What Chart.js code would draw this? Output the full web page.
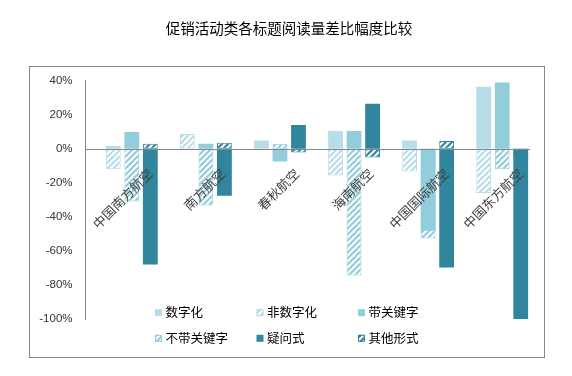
<!DOCTYPE html>
<html>
<head>
<meta charset="utf-8">
<script src="https://cdn.jsdelivr.net/npm/chart.js@4.4.1/dist/chart.umd.min.js"></script>
<style>
  html, body { margin: 0; padding: 0; background: #fff; }
</style>
</head>
<body>
<canvas id="chart" width="572" height="376"></canvas>
<script>
// ---------------- data ----------------
const TITLE = "促销活动类各标题阅读量差比幅度比较";
const categories = ["中国南方航空", "南方航空", "春秋航空", "海南航空", "中国国际航空", "中国东方航空"];

const digital      = [1.7, 0, 4.8, 10.5, 4.8, 36.5];        // 数字化
const nonDigital   = [-12.0, 8.7, -0.8, -15.7, -13.4, -26]; // 非数字化
const withKey      = [9.9, 2.9, -7.5, 10.5, -48.2, 38.9];   // 带关键字
const withoutKey   = [-31.0, -33.3, 2.9, -74.4, -52.7, -12.0]; // 不带关键字
const question     = [-68.0, -27.6, 14.0, 26.5, -69.7, -100];  // 疑问式
const otherForm    = [2.9, 3.5, -2.2, -5.1, 4.6, -5];       // 其他形式

const yTicks = { min: -100, max: 40, step: 20 };

// ---------------- colours ----------------
const LIGHT = "#b7dde8";
const MID = "#92cddc";
const DARK = "#31859c";
const GREY = "#868686";
const CJK = "'Noto Sans CJK SC', 'Noto Sans', sans-serif";

function hatch(color) {
  const c = document.createElement("canvas");
  c.width = 6; c.height = 6;
  const x = c.getContext("2d");
  x.fillStyle = "#fff";
  x.fillRect(0, 0, 6, 6);
  x.strokeStyle = color;
  x.lineWidth = 2.2;
  x.beginPath();
  x.moveTo(-1, 7); x.lineTo(7, -1);
  x.moveTo(-1, 1); x.lineTo(1, -1);
  x.moveTo(5, 7); x.lineTo(7, 5);
  x.stroke();
  return x.createPattern(c, "repeat");
}

function solid(label, data, color, stack) {
  return { label, data, stack, backgroundColor: color, borderWidth: 0 };
}
function striped(label, data, color, stack) {
  return { label, data, stack, backgroundColor: hatch(color), borderColor: color,
           borderWidth: 1, borderSkipped: false };
}

// empty first slot, pushes each group to the right like the original
const spacer = { label: "", data: [null, null, null, null, null, null], stack: "pad" };

const datasets = [
  spacer,
  solid("数字化", digital, LIGHT, "a"),
  striped("非数字化", nonDigital, LIGHT, "a"),
  solid("带关键字", withKey, MID, "b"),
  striped("不带关键字", withoutKey, MID, "b"),
  solid("疑问式", question, DARK, "c"),
  striped("其他形式", otherForm, DARK, "c")
];

// ---------------- plugins ----------------
const framePlugin = {
  id: "frame",
  beforeDraw(chart) {
    const ctx = chart.ctx;
    ctx.save();
    ctx.strokeStyle = GREY;
    ctx.lineWidth = 1;
    ctx.strokeRect(29.5, 66.5, 515, 291);
    // title
    ctx.font = "14.5px " + CJK;
    ctx.fillStyle = "#000";
    ctx.textAlign = "center";
    ctx.textBaseline = "middle";
    ctx.fillText(TITLE, 289, 28);
    ctx.restore();
  }
};

const overlayPlugin = {
  id: "overlay",
  afterDatasetsDraw(chart) {
    const { ctx, chartArea, scales: { x, y } } = chart;
    const zero = Math.round(y.getPixelForValue(0)) + 0.5;

    ctx.save();
    // zero line
    ctx.strokeStyle = GREY;
    ctx.lineWidth = 1;
    ctx.beginPath();
    ctx.moveTo(chartArea.left, zero);
    ctx.lineTo(chartArea.right, zero);
    ctx.stroke();

    // rotated category labels
    ctx.font = "13px " + CJK;
    ctx.fillStyle = "#404040";
    ctx.textAlign = "right";
    ctx.textBaseline = "middle";
    categories.forEach((name, i) => {
      const cx = x.getPixelForValue(i);
      const L = ctx.measureText(name).width;
      ctx.save();
      ctx.translate(cx + 23 + 0.06 * L, zero + 21.5);
      ctx.rotate(-Math.PI / 4);
      ctx.fillText(name, 0, 0);
      ctx.restore();
    });

    // legend, two rows of three
    const cols = [155, 256.5, 358];
    const rows = [312.7, 338.3];
    const items = datasets.slice(1);
    ctx.font = "12.5px " + CJK;
    ctx.textAlign = "left";
    items.forEach((ds, k) => {
      const bx = cols[k % 3];
      const by = rows[Math.floor(k / 3)];
      ctx.fillStyle = ds.backgroundColor;
      ctx.fillRect(bx, by - 3.5, 7, 7);
      if (ds.borderWidth) {
        ctx.strokeStyle = ds.borderColor;
        ctx.strokeRect(bx + 0.5, by - 3, 6, 6);
      }
      ctx.fillStyle = "#000";
      ctx.fillText(ds.label, bx + 10.5, by);
    });
    ctx.restore();
  }
};

// ---------------- chart ----------------
new Chart(document.getElementById("chart"), {
  type: "bar",
  data: { labels: categories, datasets },
  options: {
    responsive: false,
    animation: false,
    devicePixelRatio: 1,
    layout: { padding: { left: 0, right: 42, top: 80.7, bottom: 57 } },
    datasets: { bar: { categoryPercentage: 1.0, barPercentage: 0.8 } },
    plugins: {
      legend: { display: false },
      tooltip: { enabled: false },
      title: { display: false }
    },
    scales: {
      x: { stacked: true, display: false },
      y: {
        stacked: false,
        min: yTicks.min,
        max: yTicks.max,
        afterFit(s) { s.width = 85.5; },
        ticks: {
          stepSize: yTicks.step,
          padding: 13,
          color: "#333",
          font: { family: "'Liberation Sans', sans-serif", size: 11.5 },
          callback: v => v + "%"
        },
        grid: { display: false, drawTicks: false },
        border: { display: true, color: GREY }
      }
    }
  },
  plugins: [framePlugin, overlayPlugin]
});
</script>
</body>
</html>
